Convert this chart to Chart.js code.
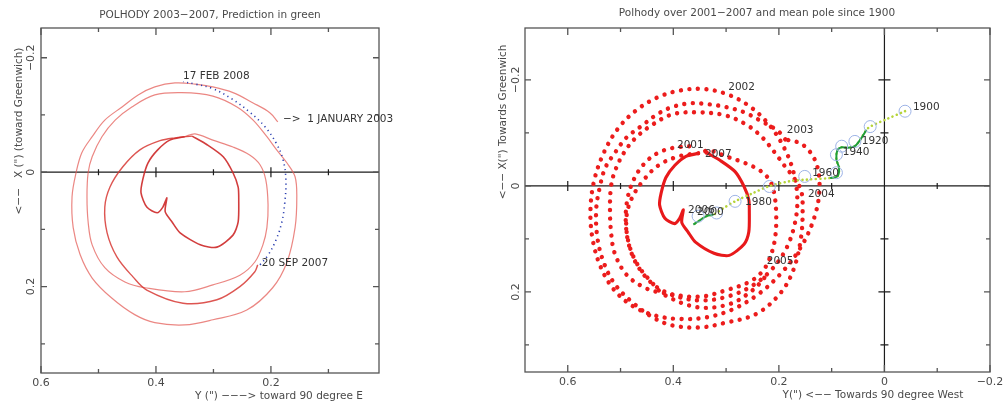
<!DOCTYPE html>
<html>
<head>
<meta charset="utf-8">
<script src="https://cdn.jsdelivr.net/npm/chart.js@4.4.1/dist/chart.umd.min.js"></script>
<style>
  body { margin: 0; background: #fff; width: 1006px; height: 402px; position: relative; overflow: hidden; }
  .pane { position: absolute; top: 0; }
</style>
</head>
<body>
<div class="pane" style="left:0"><canvas id="leftChart" width="440" height="402"></canvas></div>
<div class="pane" style="left:490px"><canvas id="rightChart" width="516" height="402"></canvas></div>
<script>
// pole position, [Y, X] in arc seconds

// 2003 -> mid 2006, outer rings
const path2003 = [[0.188,-0.088],[0.202,-0.104],[0.231,-0.121],[0.266,-0.139],[0.301,-0.149],[0.332,-0.154],[0.367,-0.156],[0.402,-0.149],[0.431,-0.135],[0.459,-0.114],[0.489,-0.091],[0.511,-0.062],[0.529,-0.034],[0.539,0.001],[0.546,0.043],[0.544,0.097],[0.532,0.144],[0.511,0.185],[0.477,0.220],[0.437,0.249],[0.402,0.263],[0.350,0.267],[0.301,0.258],[0.242,0.241],[0.197,0.202],[0.172,0.157],[0.158,0.097],[0.155,0.043],[0.158,0.008],[0.172,-0.016],[0.190,-0.039],[0.207,-0.062],[0.231,-0.091],[0.259,-0.114],[0.301,-0.133],[0.355,-0.139],[0.402,-0.135],[0.442,-0.114],[0.471,-0.091],[0.494,-0.062],[0.511,-0.027],[0.518,0.001],[0.520,0.043],[0.518,0.087],[0.511,0.127],[0.489,0.167],[0.454,0.192],[0.419,0.202],[0.350,0.209],[0.301,0.197],[0.254,0.180],[0.228,0.157],[0.214,0.127],[0.207,0.097],[0.205,0.057],[0.209,0.013],[0.219,-0.013],[0.237,-0.030],[0.266,-0.044],[0.301,-0.056],[0.332,-0.067],[0.350,-0.062]];

// the small loop (2006-2007)
const heart = [[0.350,-0.062],[0.376,-0.056],[0.397,-0.039],[0.414,-0.016],[0.423,0.013],[0.426,0.036],[0.416,0.061],[0.398,0.071],[0.388,0.061],[0.381,0.045],[0.384,0.069],[0.372,0.087],[0.358,0.106],[0.323,0.127],[0.294,0.131],[0.266,0.110],[0.257,0.087],[0.256,0.048],[0.257,0.026],[0.266,0.001],[0.283,-0.027],[0.311,-0.048],[0.337,-0.063]];

// 2007 up to 20 sep 2007
const ring2007 = [[0.337,-0.063],[0.367,-0.060],[0.393,-0.055],[0.428,-0.039],[0.458,-0.009],[0.480,0.026],[0.489,0.061],[0.485,0.106],[0.468,0.148],[0.440,0.183],[0.416,0.206],[0.353,0.229],[0.294,0.223],[0.254,0.200],[0.228,0.174],[0.223,0.162]];

// prediction 20 sep 2007 -> 17 feb 2008
const forecast = [[0.219,0.162],[0.205,0.145],[0.191,0.118],[0.181,0.087],[0.176,0.054],[0.174,0.013],[0.179,-0.022],[0.191,-0.051],[0.210,-0.079],[0.237,-0.105],[0.268,-0.128],[0.301,-0.146],[0.332,-0.154],[0.353,-0.158]];

// 2001 and 2002 (right panel only)
const loop2001 = [[0.370,-0.075],[0.400,-0.072],[0.430,-0.062],[0.455,-0.042],[0.475,-0.012],[0.487,0.025],[0.490,0.070],[0.483,0.115],[0.465,0.155],[0.435,0.188],[0.395,0.208],[0.345,0.216],[0.295,0.208],[0.250,0.188],[0.213,0.157],[0.186,0.118],[0.170,0.072],[0.165,0.025],[0.172,-0.025],[0.190,-0.072],[0.218,-0.115],[0.255,-0.150],[0.298,-0.173],[0.343,-0.183],[0.388,-0.180],[0.430,-0.167],[0.470,-0.143],[0.505,-0.108],[0.532,-0.062],[0.550,-0.010],[0.557,0.045],[0.553,0.100],[0.538,0.152],[0.513,0.195],[0.478,0.226],[0.436,0.244],[0.388,0.251],[0.338,0.248],[0.288,0.233],[0.240,0.205],[0.196,0.165],[0.158,0.115],[0.133,0.060],[0.123,0.005],[0.130,-0.045],[0.155,-0.078],[0.188,-0.088]];

// mean pole since 1900
const meanPole = [[-0.039,-0.141],[-0.004,-0.126],[0.027,-0.112],[0.034,-0.106],[0.046,-0.087],[0.056,-0.075],[0.069,-0.072],[0.081,-0.073],[0.089,-0.068],[0.091,-0.050],[0.086,-0.034],[0.089,-0.018],[0.103,-0.015],[0.147,-0.012],[0.179,-0.009],[0.220,0.001],[0.248,0.013],[0.283,0.029],[0.305,0.042],[0.324,0.054],[0.337,0.057],[0.353,0.067],[0.362,0.073]];
const meanPoleWiggle = [[0.034,-0.106],[0.046,-0.087],[0.056,-0.075],[0.069,-0.072],[0.081,-0.073],[0.089,-0.068],[0.091,-0.050],[0.086,-0.034],[0.089,-0.018],[0.103,-0.015]];
const meanPoleRecent = [[0.324,0.054],[0.337,0.057],[0.353,0.067],[0.362,0.073]];
const meanPoleMarks = [[-0.039,-0.141],[0.027,-0.112],[0.056,-0.084],[0.081,-0.075],[0.091,-0.059],[0.091,-0.025],[0.151,-0.018],[0.218,0.001],[0.283,0.029],[0.318,0.051],[0.353,0.057]];

// labels
const leftNotes = ['17 FEB 2008', '\u2212>  1 JANUARY 2003', '20 SEP 2007'];
const leftNoteAt = [[0.353,-0.167],[0.179,-0.093],[0.216,0.159]];
const rightNotes = ['1900','1920','1940','1960','1980','2000','2006','2001','2002','2003','2004','2005','2007'];
const rightNoteAt = [[-0.054,-0.148],[0.043,-0.085],[0.079,-0.063],[0.137,-0.023],[0.264,0.030],[0.355,0.050],[0.372,0.045],[0.393,-0.076],[0.296,-0.186],[0.185,-0.106],[0.145,0.016],[0.223,0.143],[0.340,-0.059]];

const leftXTicks = [0.6, 0.5, 0.4, 0.3, 0.2, 0.1];
const rightXTicks = [0.6, 0.5, 0.4, 0.3, 0.2, 0.1, 0, -0.1, -0.2];
const yTicks = [-0.2, -0.1, 0, 0.1, 0.2, 0.3];
const majorTicks = [-0.2, 0, 0.2, 0.4, 0.6];

const pts = a => a.map(p => ({ x: p[0], y: p[1] }));
const fmt = v => (v < 0 ? '\u2212' : '') + (v === 0 ? '0' : Math.abs(v).toFixed(1));
const isMajor = v => majorTicks.some(m => Math.abs(m - v) < 1e-9);

const panelDeco = {
  id: 'panelDeco',
  beforeDatasetsDraw(chart, args, o) {
    const { ctx, chartArea: a, scales: { x, y } } = chart;
    ctx.save();
    ctx.strokeStyle = '#1c1c1c';
    ctx.lineWidth = 1.2;
    ctx.beginPath();
    const y0 = y.getPixelForValue(0);
    ctx.moveTo(a.left, y0); ctx.lineTo(a.right, y0);
    o.xTicks.forEach(v => {
      const px = x.getPixelForValue(v);
      if (px <= a.left + 1 || px >= a.right - 1) return;
      const h = isMajor(v) ? 5 : 3;
      ctx.moveTo(px, y0 - h); ctx.lineTo(px, y0 + h);
    });
    if (o.vZero) {
      const x0 = x.getPixelForValue(0);
      ctx.moveTo(x0, a.top); ctx.lineTo(x0, a.bottom);
      yTicks.forEach(v => {
        if (v === 0) return;
        const py = y.getPixelForValue(v);
        const h = isMajor(v) ? 6 : 4;
        ctx.moveTo(x0 - h, py); ctx.lineTo(x0 + h, py);
      });
    }
    ctx.stroke();
    ctx.restore();
  },
  afterDraw(chart, args, o) {
    const { ctx, chartArea: a, scales: { x, y } } = chart;
    ctx.save();
    // frame + inward ticks
    ctx.strokeStyle = '#555';
    ctx.lineWidth = 1.3;
    ctx.strokeRect(a.left, a.top, a.right - a.left, a.bottom - a.top);
    ctx.beginPath();
    o.xTicks.forEach(v => {
      const px = x.getPixelForValue(v);
      const h = isMajor(v) ? 7 : 4;
      ctx.moveTo(px, a.bottom); ctx.lineTo(px, a.bottom - h);
      ctx.moveTo(px, a.top); ctx.lineTo(px, a.top + h);
    });
    yTicks.forEach(v => {
      const py = y.getPixelForValue(v);
      const h = isMajor(v) ? 6 : 4;
      ctx.moveTo(a.left, py); ctx.lineTo(a.left + h, py);
      ctx.moveTo(a.right, py); ctx.lineTo(a.right - h, py);
    });
    ctx.stroke();

    ctx.fillStyle = '#4a4a4a';
    ctx.font = '11px "DejaVu Sans"';
    ctx.textBaseline = 'middle';
    ctx.textAlign = 'center';
    o.xTicks.filter(isMajor).forEach(v => {
      ctx.fillText(fmt(v), x.getPixelForValue(v), a.bottom + 10);
    });
    yTicks.filter(isMajor).forEach(v => {
      ctx.save();
      ctx.translate(a.left - o.yTickGap, y.getPixelForValue(v));
      ctx.rotate(-Math.PI / 2);
      ctx.fillText(fmt(v), 0, 0);
      ctx.restore();
    });

    // titles
    ctx.font = '10.5px "DejaVu Sans"';
    ctx.fillText(o.title, o.titleX, o.titleY);
    ctx.fillText(o.xTitle, o.xTitleX, a.bottom + 23);
    ctx.save();
    ctx.translate(o.yTitleX, o.yTitleY);
    ctx.rotate(-Math.PI / 2);
    ctx.fillText(o.yTitle, 0, 0);
    ctx.restore();

    // notes on the plot
    ctx.textAlign = 'left';
    ctx.fillStyle = '#333';
    ctx.font = '10.5px "DejaVu Sans"';
    o.notes.forEach((t, i) => {
      const p = o.noteAt[i];
      ctx.fillText(t, x.getPixelForValue(p[0]), y.getPixelForValue(p[1]));
    });
    ctx.restore();
  }
};

const lineSet = (data, color, width, extra) => Object.assign({
  data: pts(data), showLine: true, borderColor: color, borderWidth: width,
  pointRadius: 0, tension: 0.35, fill: false
}, extra || {});

const baseOptions = (xmin, xmax, ymin, ymax, pad, deco) => ({
  responsive: false,
  animation: false,
  layout: { padding: pad },
  scales: {
    x: { type: 'linear', display: false, reverse: true, min: xmin, max: xmax },
    y: { type: 'linear', display: false, reverse: true, min: ymin, max: ymax }
  },
  plugins: { legend: { display: false }, tooltip: { enabled: false }, panelDeco: deco }
});

new Chart(document.getElementById('leftChart'), {
  type: 'scatter',
  plugins: [panelDeco],
  data: {
    datasets: [
      lineSet(forecast, '#2b3fb0', 1.6, { borderDash: [1.2, 3.6], tension: 0.4 }),
      lineSet(heart, 'rgba(205,40,40,0.9)', 1.6, { tension: 0.25 }),
      lineSet(ring2007, 'rgba(215,55,50,0.85)', 1.4),
      lineSet(path2003, 'rgba(228,95,90,0.75)', 1.2)
    ]
  },
  options: baseOptions(0.012, 0.6, -0.252, 0.351, { left: 41, right: 61, top: 28, bottom: 29 }, {
    xTicks: leftXTicks, yTickGap: 10,
    title: 'POLHODY 2003\u22122007, Prediction in green', titleX: 210, titleY: 15,
    xTitle: 'Y (") \u2212\u2212\u2212> toward 90 degree E', xTitleX: 279,
    yTitle: '<\u2212\u2212   X (") (toward Greenwich)', yTitleX: 19, yTitleY: 131,
    notes: leftNotes, noteAt: leftNoteAt
  })
});

const dots = { borderDash: [0.01, 8.5], borderCapStyle: 'round' };

new Chart(document.getElementById('rightChart'), {
  type: 'scatter',
  plugins: [panelDeco],
  data: {
    datasets: [
      { data: pts(meanPoleMarks), pointRadius: 6, pointBorderColor: '#9db3e6', pointBackgroundColor: 'rgba(0,0,0,0)', pointBorderWidth: 1, order: 0 },
      lineSet(meanPoleWiggle, '#1f9e3a', 2, { tension: 0.3, order: 1 }),
      lineSet(meanPoleRecent, '#1f9e3a', 2, { tension: 0.3, order: 1 }),
      lineSet(meanPole, '#b6d43a', 2.6, Object.assign({ tension: 0.3, order: 2 }, { borderDash: [0.01, 4.5], borderCapStyle: 'round' })),
      lineSet(heart, '#e8191b', 3.1, { tension: 0.25, order: 3 }),
      lineSet(ring2007, '#ec1c1c', 4.4, Object.assign({ order: 4 }, dots)),
      lineSet(path2003, '#ec1c1c', 4.4, Object.assign({ order: 4 }, dots)),
      lineSet(loop2001, '#ec1c1c', 4.4, Object.assign({ order: 4 }, dots))
    ]
  },
  options: baseOptions(-0.2, 0.681, -0.298, 0.351, { left: 35, right: 16, top: 28, bottom: 30 }, {
    xTicks: rightXTicks, yTickGap: 9,
    vZero: true,
    title: 'Polhody over 2001\u22122007 and mean pole since 1900', titleX: 267, titleY: 13,
    xTitle: 'Y(") <\u2212\u2212 Towards 90 degree West', xTitleX: 383,
    yTitle: '<\u2212\u2212 X(") Towards Greenwich', yTitleX: 13, yTitleY: 122,
    notes: rightNotes, noteAt: rightNoteAt
  })
});
</script>
</body>
</html>
